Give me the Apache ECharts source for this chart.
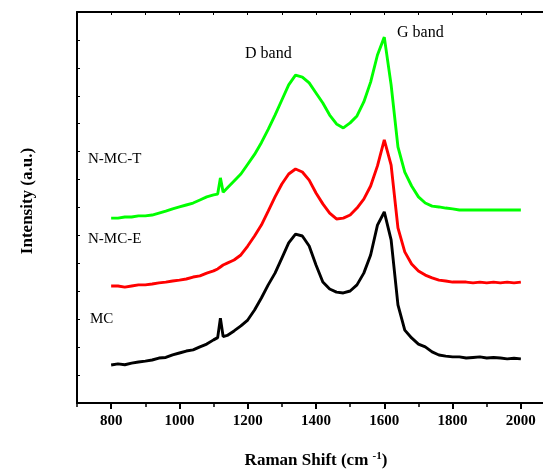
<!DOCTYPE html>
<html>
<head>
<meta charset="utf-8">
<script src="https://cdn.jsdelivr.net/npm/echarts@6/dist/echarts.min.js"></script>
<style>html,body{margin:0;padding:0;background:#fff;}#c{width:543px;height:471px;}</style>
</head>
<body>
<div id="c"></div>
<script>
var ramanShift = [800,820,840,860,880,900,920,940,960,980,1000,1020,1040,1060,1080,1100,1112,1120,1128,1140,1160,1180,1200,1220,1240,1260,1280,1300,1320,1340,1360,1380,1400,1420,1440,1460,1480,1500,1520,1540,1560,1580,1600,1620,1640,1660,1680,1700,1720,1740,1760,1780,1800,1820,1840,1860,1880,1900,1920,1940,1960,1980,2000];
var mcValues = [136,140,137,143,147,150,154,161,163,172,179,186,190,201,211,226,234,304,238,242,258,276,297,333,376,423,465,519,573,605,598,562,494,433,408,397,394,401,423,465,530,637,684,584,351,261,233,211,201,183,172,168,165,165,161,163,165,161,163,161,158,160,158];
var nmceValues = [419,419,415,419,423,423,426,430,433,437,440,444,451,455,465,473,480,487,494,501,512,530,562,598,637,687,738,784,820,838,827,798,752,713,680,659,662,673,698,730,777,849,942,852,627,541,498,473,458,448,440,437,433,433,433,430,433,430,433,430,433,430,433];
var nmctValues = [662,662,666,666,670,670,673,680,687,695,702,709,716,727,738,745,748,806,755,770,795,820,855,890,932,980,1031,1085,1139,1174,1167,1146,1110,1074,1031,999,985,1003,1028,1078,1149,1246,1310,1139,917,827,777,738,716,705,702,698,695,691,691,691,691,691,691,691,691,691,691];
var seriesNames = ['MC','N-MC-E','N-MC-T'];
var seriesColors = ['#000000','#ff0000','#00ff00'];
var xTickLabels = [800,1000,1200,1400,1600,1800,2000];

function pairs(vals){ return ramanShift.map(function(x,i){ return [x, vals[i]]; }); }
var allVals = [mcValues, nmceValues, nmctValues];
var font = '"Liberation Serif","Times New Roman",serif';

var chart = echarts.init(document.getElementById('c'));
chart.setOption({
  animation: false,
  backgroundColor: '#fff',
  grid: {left: 77, top: 12, width: 478, height: 391, outerBoundsMode: 'none', containLabel: false},
  xAxis: [{
    type: 'value', min: 700, max: 2100, interval: 100, position: 'bottom',
    axisLine: {show: true, onZero: false, lineStyle: {color: '#000', width: 2}},
    axisTick: {show: true, inside: false, length: 6, customValues: xTickLabels, lineStyle: {color: '#000', width: 2}},
    splitLine: {show: false},
    axisLabel: {
      color: '#000', fontFamily: font, fontWeight: 'bold', fontSize: 15, margin: 11,
      customValues: xTickLabels,
      formatter: function(v){ return String(v); }
    },
    name: 'Raman Shift (cm {sup|-1})', nameLocation: 'middle', nameGap: 48,
    nameTextStyle: {color: '#000', fontFamily: font, fontWeight: 'bold', fontSize: 17,
      rich: {sup: {fontFamily: font, fontWeight: 'bold', fontSize: 11, verticalAlign: 'top', padding: [0,0,8,0]}}}
  }, {
    type: 'value', min: 700, max: 2100, interval: 100, position: 'top',
    axisLine: {show: true, onZero: false, lineStyle: {color: '#000', width: 2}},
    axisTick: {show: true, inside: true, length: 3, lineStyle: {color: '#000', width: 1}},
    axisLabel: {show: false}, splitLine: {show: false}
  }, {
    type: 'value', min: 700, max: 2100, interval: 100, position: 'bottom',
    axisLine: {show: false},
    axisTick: {show: true, inside: false, length: 4, lineStyle: {color: '#000', width: 1.5}},
    axisLabel: {show: false}, splitLine: {show: false}
  }],
  yAxis: [{
    type: 'value', min: 0, max: 1400, interval: 100,
    axisLine: {show: true, onZero: false, lineStyle: {color: '#000', width: 2}},
    axisTick: {show: true, inside: true, length: 3, lineStyle: {color: '#000', width: 1}},
    axisLabel: {show: false}, splitLine: {show: false}
  }],
  series: seriesNames.map(function(n, i){
    return {
      name: n, type: 'line', xAxisIndex: 0, yAxisIndex: 0, data: pairs(allVals[i]),
      showSymbol: false, symbol: 'none', smooth: false,
      lineStyle: {color: seriesColors[i], width: 2.9}, z: 3 + i
    };
  }),
  graphic: [
    {type: 'text', x: 28, y: 201, rotation: Math.PI / 2,
      style: {text: 'Intensity (a.u.)', font: 'bold 17px ' + font, fill: '#000', align: 'center', verticalAlign: 'middle'}},
    {type: 'text', left: 88, top: 152, style: {text: 'N-MC-T', font: '15px ' + font, fill: '#000'}},
    {type: 'text', left: 88, top: 232, style: {text: 'N-MC-E', font: '15px ' + font, fill: '#000'}},
    {type: 'text', left: 90, top: 312, style: {text: 'MC', font: '15px ' + font, fill: '#000'}},
    {type: 'text', left: 245, top: 46, style: {text: 'D band', font: '16px ' + font, fill: '#000'}},
    {type: 'text', left: 397, top: 25, style: {text: 'G band', font: '16px ' + font, fill: '#000'}}
  ]
});
</script>
</body>
</html>
